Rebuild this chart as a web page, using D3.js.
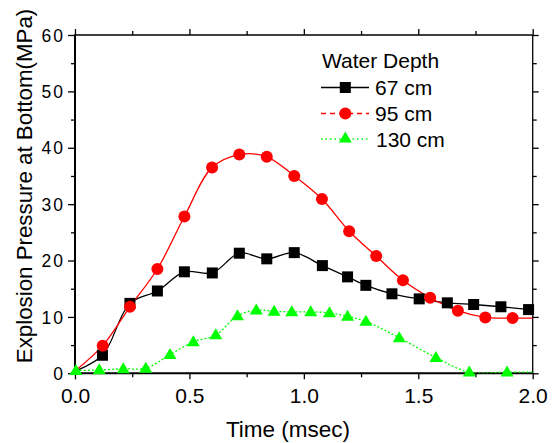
<!DOCTYPE html>
<html>
<head>
<meta charset="utf-8">
<script src="https://cdn.jsdelivr.net/npm/d3@7"></script>
<style>
  html, body { margin: 0; padding: 0; background: #fff; }
  svg { display: block; font-family: "Liberation Sans", Arial, sans-serif; }
</style>
</head>
<body>
<svg id="chart" width="553" height="443"></svg>
<script>
// ---- data ----
const xTicks = [0.0, 0.5, 1.0, 1.5, 2.0];
const yTicks = [0, 10, 20, 30, 40, 50, 60];
const seriesNames = ["67 cm", "95 cm", "130 cm"];

const time67 = [0.12, 0.24, 0.36, 0.478, 0.60, 0.718, 0.838, 0.958, 1.081, 1.191, 1.271, 1.385, 1.504, 1.627, 1.742, 1.861, 1.982];
const pressure67 = [3.2, 12.4, 14.6, 18.0, 17.8, 21.3, 20.3, 21.4, 19.1, 17.1, 15.6, 14.1, 13.2, 12.5, 12.2, 11.8, 11.3];
const lineStart67 = [0.0, 0.4];

const time95 = [0.121, 0.24, 0.36, 0.478, 0.599, 0.718, 0.838, 0.958, 1.079, 1.198, 1.316, 1.433, 1.552, 1.673, 1.793, 1.912];
const pressure95 = [4.9, 11.8, 18.5, 27.8, 36.5, 38.8, 38.4, 35.0, 30.9, 25.2, 20.8, 16.5, 13.4, 11.1, 9.9, 9.8];
const lineStart95 = [0.0, 0.4];
const lineEnd95 = [2.0, 9.8];

const time130 = [0.004, 0.106, 0.211, 0.309, 0.415, 0.517, 0.615, 0.71, 0.792, 0.87, 0.947, 1.03, 1.112, 1.191, 1.271, 1.417, 1.577, 1.723, 1.888];
const pressure130 = [0.5, 0.6, 0.8, 0.9, 3.3, 5.6, 6.8, 10.2, 11.2, 11.0, 10.9, 10.9, 10.7, 10.1, 9.2, 6.3, 2.8, 0.2, 0.2];
const lineEnd130 = [2.0, 0.2];

// ---- layout ----
const svg = d3.select("#chart");
const L = 75, R = 532.7, T = 35, B = 373.3;
const x = d3.scaleLinear().domain([0, 2]).range([L, R]);
const y = d3.scaleLinear().domain([0, 60]).range([B, T]);

const toPts = (ts, ps) => ts.map((t, i) => [t, ps[i]]);
const series = [
  { name: seriesNames[0], color: "#000000", marker: "square", dash: null, legendDash: null,
    markers: toPts(time67, pressure67), line: [lineStart67, ...toPts(time67, pressure67)] },
  { name: seriesNames[1], color: "#ff0000", marker: "circle", dash: null, legendDash: "5,4",
    markers: toPts(time95, pressure95), line: [lineStart95, ...toPts(time95, pressure95), lineEnd95] },
  { name: seriesNames[2], color: "#00ff00", marker: "triangle", dash: "2,2", legendDash: "1.5,3",
    markers: toPts(time130, pressure130), line: [...toPts(time130, pressure130), lineEnd130] }
];

// ---- axes ----
const fontTick = "Liberation Sans, Arial, sans-serif";
const styleTicks = sel => sel.selectAll(".tick line").attr("stroke", "#000").attr("stroke-width", 1.3);
// bottom
const gx = svg.append("g").attr("transform", `translate(0,${B})`)
  .call(d3.axisBottom(x).tickValues(xTicks).tickSize(6).tickFormat(d3.format(".1f")));
gx.select(".domain").remove();
styleTicks(gx);
gx.selectAll(".tick text").attr("font-size", 21).attr("font-family", fontTick).attr("fill", "#000").attr("dy", 0).attr("y", 30);
const gxm = svg.append("g").attr("transform", `translate(0,${B})`)
  .call(d3.axisBottom(x).tickValues(d3.range(0.25, 2, 0.5)).tickSize(4).tickFormat(""));
gxm.select(".domain").remove(); styleTicks(gxm);
// top
const gt = svg.append("g").attr("transform", `translate(0,${T})`)
  .call(d3.axisTop(x).tickValues(xTicks).tickSize(6).tickFormat(""));
gt.select(".domain").remove(); styleTicks(gt);
const gtm = svg.append("g").attr("transform", `translate(0,${T})`)
  .call(d3.axisTop(x).tickValues(d3.range(0.25, 2, 0.5)).tickSize(4).tickFormat(""));
gtm.select(".domain").remove(); styleTicks(gtm);
// left
const gy = svg.append("g").attr("transform", `translate(${L},0)`)
  .call(d3.axisLeft(y).tickValues(yTicks).tickSize(7).tickFormat(d3.format("d")));
gy.select(".domain").remove();
styleTicks(gy);
gy.selectAll(".tick text").attr("font-size", 17.5).attr("font-family", fontTick).attr("fill", "#000")
  .attr("letter-spacing", "2px").attr("x", -10).attr("dy", "0.35em");
const gym = svg.append("g").attr("transform", `translate(${L},0)`)
  .call(d3.axisLeft(y).tickValues(d3.range(5, 60, 10)).tickSize(4).tickFormat(""));
gym.select(".domain").remove(); styleTicks(gym);
// right
const gr = svg.append("g").attr("transform", `translate(${R},0)`)
  .call(d3.axisRight(y).tickValues(yTicks).tickSize(6).tickFormat(""));
gr.select(".domain").remove(); styleTicks(gr);
const grm = svg.append("g").attr("transform", `translate(${R},0)`)
  .call(d3.axisRight(y).tickValues(d3.range(5, 60, 10)).tickSize(4).tickFormat(""));
grm.select(".domain").remove(); styleTicks(grm);

// frame
svg.append("line").attr("x1", L).attr("x2", R).attr("y1", T).attr("y2", T).attr("stroke", "#000").attr("stroke-width", 1.3);
svg.append("line").attr("x1", R).attr("x2", R).attr("y1", T).attr("y2", B).attr("stroke", "#000").attr("stroke-width", 1.3);
svg.append("line").attr("x1", L).attr("x2", L).attr("y1", T - 0.7).attr("y2", B + 1).attr("stroke", "#000").attr("stroke-width", 2);
svg.append("line").attr("x1", L - 1).attr("x2", R + 0.7).attr("y1", B).attr("y2", B).attr("stroke", "#000").attr("stroke-width", 2);

// axis titles
svg.append("text").attr("x", 288).attr("y", 437).attr("text-anchor", "middle")
  .attr("font-size", 22.5).attr("fill", "#000").text("Time (msec)");
svg.append("text").attr("transform", "translate(32,186) rotate(-90)").attr("text-anchor", "middle")
  .attr("font-size", 22.3).attr("fill", "#000").text("Explosion Pressure at Bottom(MPa)");

// ---- lines ----
const clipId = "plotclip";
svg.append("clipPath").attr("id", clipId).append("rect")
  .attr("x", L).attr("y", T).attr("width", R - L).attr("height", B - T);
const lineGen = d3.line().x(d => x(d[0])).y(d => y(d[1])).curve(d3.curveCatmullRom.alpha(0.5));
const plot = svg.append("g");
series.forEach(s => {
  plot.append("path").attr("d", lineGen(s.line)).attr("fill", "none")
    .attr("stroke", s.color).attr("stroke-width", 1.3)
    .attr("stroke-dasharray", s.dash)
    .attr("clip-path", `url(#${clipId})`);
});

function drawMarker(g, type, cx, cy, color) {
  if (type === "square") {
    g.append("rect").attr("x", cx - 5.5).attr("y", cy - 5.5).attr("width", 11).attr("height", 11).attr("fill", color);
  } else if (type === "circle") {
    g.append("circle").attr("cx", cx).attr("cy", cy).attr("r", 6).attr("fill", color);
  } else {
    const h = 11, w = 13;
    g.append("path").attr("d", `M${cx},${cy - h * 0.6}L${cx + w / 2},${cy + h * 0.4}L${cx - w / 2},${cy + h * 0.4}Z`).attr("fill", color);
  }
}
series.forEach(s => {
  const g = plot.append("g");
  s.markers.forEach(d => drawMarker(g, s.marker, x(d[0]), y(d[1]), s.color));
});

// ---- legend ----
const lg = svg.append("g");
lg.append("text").attr("x", 322).attr("y", 68).attr("font-size", 21).attr("fill", "#000").text("Water Depth");
const rowsY = [87.5, 113.5, 139];
series.forEach((s, i) => {
  const yy = rowsY[i];
  lg.append("line").attr("x1", 321).attr("x2", 369).attr("y1", yy).attr("y2", yy)
    .attr("stroke", s.color).attr("stroke-width", 1.3).attr("stroke-dasharray", s.legendDash);
  drawMarker(lg, s.marker, 345.3, s.marker === "triangle" ? yy - 1 : yy, s.color);
  lg.append("text").attr("x", i === 2 ? 376 : 375).attr("y", yy + 7.5).attr("font-size", 21).attr("fill", "#000").text(s.name);
});
</script>
</body>
</html>
